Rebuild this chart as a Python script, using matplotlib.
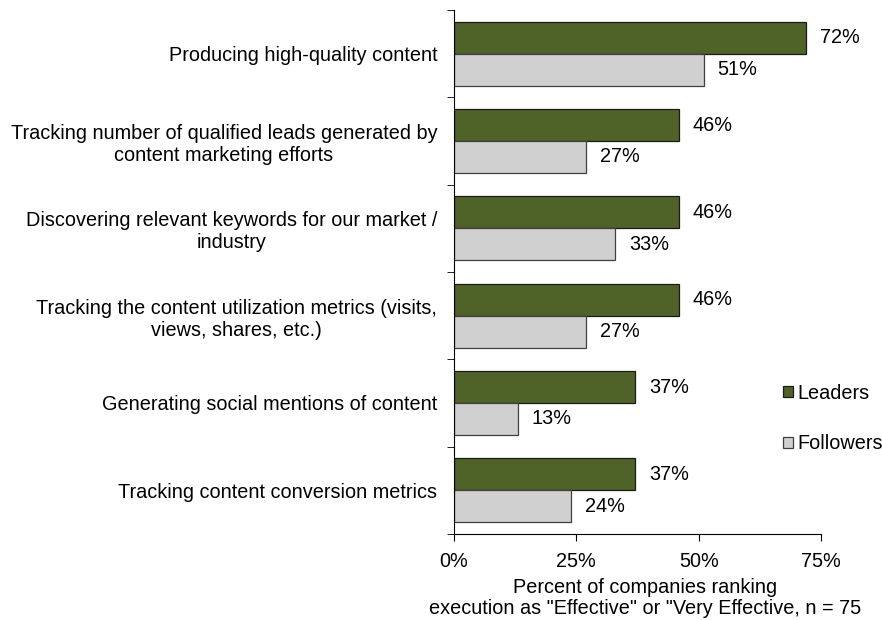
import numpy as np
import matplotlib.pyplot as plt
from matplotlib.ticker import FixedLocator, PercentFormatter

plt.rcParams['font.family'] = ['Liberation Sans', 'DejaVu Sans']

# data
categories = [
    "Producing high-quality content",
    "Tracking number of qualified leads generated by\ncontent marketing efforts",
    "Discovering relevant keywords for our market /\nindustry",
    "Tracking the content utilization metrics (visits,\nviews, shares, etc.)",
    "Generating social mentions of content",
    "Tracking content conversion metrics",
]
leaders = [72, 46, 46, 46, 37, 37]
followers = [51, 27, 33, 27, 13, 24]
x_ticks = [0, 25, 50, 75]

FS = 14.3

fig = plt.figure(figsize=(8.82, 6.2), dpi=100)
ax = fig.add_axes([0.5147, 0.1387, 0.4161, 0.8452])

y = np.arange(len(categories))
h = 0.366
b1 = ax.barh(y - h/2, leaders, height=h, color="#4F6228", edgecolor="#1a1a1a",
             linewidth=0.9, label="Leaders")
b2 = ax.barh(y + h/2, followers, height=h, color="#D0D0D0", edgecolor="#404040",
             linewidth=0.9, label="Followers")

for rect, v in zip(b1, leaders):
    ax.annotate(f"{v}%", (v, rect.get_y() + rect.get_height()/2), xytext=(10, 0),
                textcoords="offset points", va="center", ha="left", fontsize=FS)
for rect, v in zip(b2, followers):
    ax.annotate(f"{v}%", (v, rect.get_y() + rect.get_height()/2), xytext=(10, 0),
                textcoords="offset points", va="center", ha="left", fontsize=FS)

ax.set_xlim(0, 75)
ax.set_ylim(len(categories) - 0.5, -0.5)
ax.set_xticks(x_ticks)
ax.xaxis.set_major_formatter(PercentFormatter(decimals=0))
ax.tick_params(axis="x", direction="out", length=5, labelsize=FS, pad=8)

ax.set_yticks(y)
ax.set_yticklabels(categories, ha="right", multialignment="center", fontsize=FS)
ax.tick_params(axis="y", which="major", length=0, pad=12)
ax.yaxis.set_minor_locator(FixedLocator(np.arange(-0.5, len(categories), 1.0)))
ax.tick_params(axis="y", which="minor", direction="out", length=5)

for s in ["top", "right"]:
    ax.spines[s].set_visible(False)

ax.set_xlabel('Percent of companies ranking\nexecution as "Effective" or "Very Effective, n = 75',
              fontsize=FS, linespacing=1.12)
ax.xaxis.set_label_coords(0.52, -0.084, transform=ax.transAxes)
ax.xaxis.label.set_va("top")

ax.legend(loc="center left", bbox_to_anchor=(0.896, 0.2204), frameon=False, fontsize=FS,
          handlelength=0.5, handleheight=0.5, handletextpad=0.25, labelspacing=1.6,
          borderpad=0, borderaxespad=0)

plt.savefig("out.png", dpi=100)
